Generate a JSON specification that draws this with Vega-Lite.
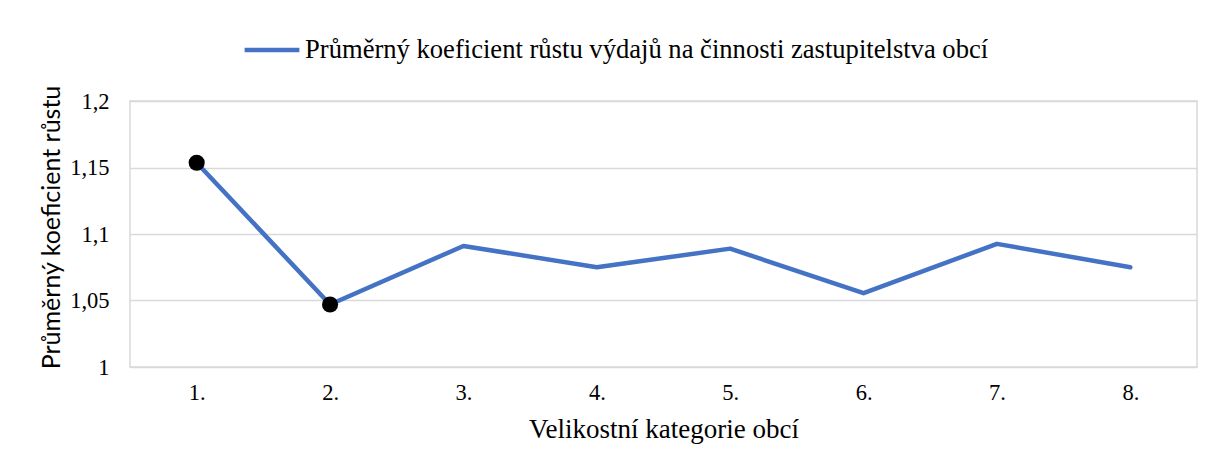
{
  "$schema": "https://vega.github.io/schema/vega-lite/v6.json",
  "autosize": {"type": "none"},
  "width": 1067,
  "height": 266,
  "padding": {"left": 130, "top": 101, "right": 11, "bottom": 85},
  "background": "white",
  "config": {
    "view": {"stroke": "#d9d9d9", "strokeWidth": 1.5},
    "font": "Liberation Serif"
  },
  "data": {
    "values": [
      {"kategorie": "1.", "hodnota": 1.1536, "serie": "Průměrný koeficient růstu výdajů na činnosti zastupitelstva obcí", "bod": true},
      {"kategorie": "2.", "hodnota": 1.047, "serie": "Průměrný koeficient růstu výdajů na činnosti zastupitelstva obcí", "bod": true},
      {"kategorie": "3.", "hodnota": 1.091, "serie": "Průměrný koeficient růstu výdajů na činnosti zastupitelstva obcí", "bod": false},
      {"kategorie": "4.", "hodnota": 1.075, "serie": "Průměrný koeficient růstu výdajů na činnosti zastupitelstva obcí", "bod": false},
      {"kategorie": "5.", "hodnota": 1.089, "serie": "Průměrný koeficient růstu výdajů na činnosti zastupitelstva obcí", "bod": false},
      {"kategorie": "6.", "hodnota": 1.0555, "serie": "Průměrný koeficient růstu výdajů na činnosti zastupitelstva obcí", "bod": false},
      {"kategorie": "7.", "hodnota": 1.0926, "serie": "Průměrný koeficient růstu výdajů na činnosti zastupitelstva obcí", "bod": false},
      {"kategorie": "8.", "hodnota": 1.075, "serie": "Průměrný koeficient růstu výdajů na činnosti zastupitelstva obcí", "bod": false}
    ]
  },
  "encoding": {
    "x": {
      "field": "kategorie",
      "type": "ordinal",
      "scale": {"type": "point", "padding": 0.5},
      "axis": {
        "title": "Velikostní kategorie obcí",
        "titleFont": "Liberation Serif",
        "titleFontSize": 27,
        "titleFontWeight": "normal",
        "titleColor": "#000000",
        "titlePadding": 13,
        "labelFont": "Liberation Serif",
        "labelFontSize": 22.5,
        "labelColor": "#000000",
        "labelAngle": 0,
        "labelPadding": 14,
        "ticks": false,
        "domain": false,
        "grid": false
      }
    },
    "y": {
      "field": "hodnota",
      "type": "quantitative",
      "scale": {"domain": [1, 1.2], "nice": false, "zero": false},
      "axis": {
        "values": [1, 1.05, 1.1, 1.15, 1.2],
        "labelExpr": "replace(toString(datum.value), '.', ',')",
        "title": "Průměrný koeficient růstu",
        "titleFont": "Lato",
        "titleFontSize": 25,
        "titleFontWeight": "normal",
        "titleColor": "#000000",
        "titlePadding": 5,
        "titleY": 126,
        "labelFont": "Liberation Serif",
        "labelFontSize": 22.5,
        "labelColor": "#000000",
        "labelPadding": 21,
        "ticks": false,
        "domain": false,
        "grid": true,
        "gridColor": "#d9d9d9",
        "gridWidth": 1.5
      }
    }
  },
  "layer": [
    {
      "mark": {"type": "line", "strokeWidth": 4.5, "strokeCap": "round", "strokeJoin": "round"},
      "encoding": {
        "color": {
          "field": "serie",
          "type": "nominal",
          "scale": {"range": ["#4472C4"]},
          "legend": {
            "title": null,
            "orient": "none",
            "legendX": 112,
            "legendY": -81,
            "symbolType": "stroke",
            "symbolSize": 3000,
            "symbolStrokeWidth": 4.5,
            "labelFont": "Liberation Serif",
            "labelFontSize": 26.6,
            "labelColor": "#000000",
            "labelOffset": 3,
            "labelLimit": 1000,
            "padding": 0
          }
        }
      }
    },
    {
      "transform": [{"filter": "datum.bod"}],
      "mark": {"type": "circle", "size": 260, "color": "#000000", "opacity": 1}
    }
  ]
}
